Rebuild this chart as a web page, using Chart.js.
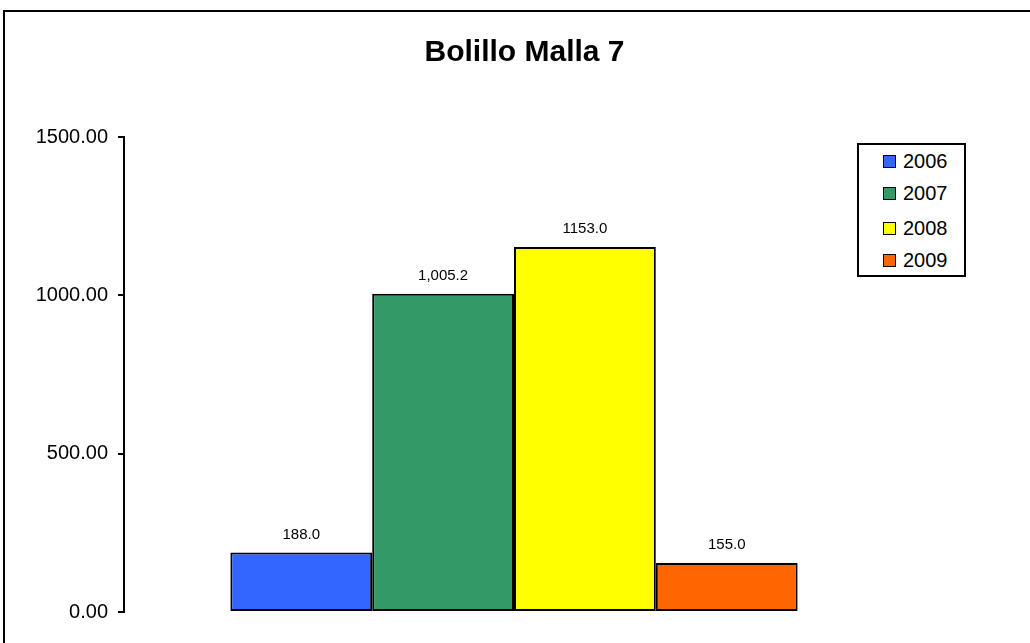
<!DOCTYPE html>
<html>
<head>
<meta charset="utf-8">
<script src="https://cdn.jsdelivr.net/npm/chart.js@4"></script>
<style>
  html, body { margin: 0; padding: 0; background: #fff; overflow: hidden; }
  #frame { position: absolute; left: 3px; top: 10px; border: 2px solid #000; width: 1039px; height: 640px; }
  #legend { position: absolute; left: 857px; top: 143px; width: 105px; height: 130px; border: 2px solid #000; background: #fff;
            font-family: Arial, "Liberation Sans", sans-serif; font-size: 20px; color: #000; }
  #legend .item { position: absolute; left: 24px; height: 24px; line-height: 24px; }
  #legend .sw { display: inline-block; width: 11px; height: 11px; border: 1.5px solid #000; margin-right: 7px; vertical-align: 0px; }
</style>
</head>
<body>
<div id="frame"><canvas id="chart" width="1039" height="640"></canvas></div>
<div id="legend"></div>
<script>
// Bolillo Malla 7
const years = ['2006', '2007', '2008', '2009'];
const values = [188.0, 1005.2, 1153.0, 155.0];
const valueLabels = ['188.0', '1,005.2', '1153.0', '155.0'];
const colors = ['#3366FF', '#339966', '#FFFF00', '#FF6600'];
const yTicks = [0, 500, 1000, 1500];

const font = 'Arial, "Liberation Sans", sans-serif';

// etiquetas de valor encima de cada barra
const valueLabelPlugin = {
    id: 'valueLabels',
    afterDatasetsDraw(chart) {
        const c = chart.ctx;
        c.save();
        c.font = '15px ' + font;
        c.fillStyle = '#000';
        c.textAlign = 'center';
        c.textBaseline = 'middle';
        chart.data.datasets.forEach((ds, i) => {
            const bar = chart.getDatasetMeta(i).data[0];
            c.fillText(valueLabels[i], bar.x, bar.y - 18);
        });
        c.restore();
    }
};

const datasets = years.map((y, i) => ({
    label: y,
    data: [values[i]],
    backgroundColor: colors[i],
    borderColor: '#000',
    borderWidth: 2,
    borderSkipped: false
}));

new Chart(document.getElementById('chart').getContext('2d'), {
    type: 'bar',
    data: { labels: [''], datasets: datasets },
    options: {
        responsive: false,
        animation: false,
        devicePixelRatio: 1,
        categoryPercentage: 4 / 5.5,
        barPercentage: 1,
        layout: { padding: { left: 0, right: 0, top: 0, bottom: 40 } },
        plugins: {
            legend: { display: false },
            tooltip: { enabled: false },
            title: {
                display: true,
                text: 'Bolillo Malla 7',
                color: '#000',
                font: { family: font, size: 30, weight: 'bold', lineHeight: 1.2 },
                padding: { top: 23, bottom: 66 }
            }
        },
        scales: {
            x: { display: false },
            y: {
                min: 0,
                max: 1500,
                afterBuildTicks: axis => { axis.ticks = yTicks.map(v => ({ value: v })); },
                afterFit: axis => { axis.width = 119; },
                border: { display: true, color: '#000', width: 2 },
                grid: { drawOnChartArea: false, drawTicks: true, tickLength: 6, color: '#000', lineWidth: 2 },
                ticks: {
                    color: '#000',
                    padding: 10,
                    font: { family: font, size: 20 },
                    callback: v => Number(v).toFixed(2)
                }
            },
            // espacio vacío a la derecha (zona de la leyenda)
            yRight: {
                position: 'right',
                display: true,
                afterFit: axis => { axis.width = 140; },
                border: { display: false },
                grid: { display: false },
                ticks: { display: false }
            }
        }
    },
    plugins: [valueLabelPlugin]
});

// leyenda
const legend = document.getElementById('legend');
const rowTops = [4, 36, 71, 103];
years.forEach((y, i) => {
    const item = document.createElement('div');
    item.className = 'item';
    item.style.top = rowTops[i] + 'px';
    item.innerHTML = '<span class="sw" style="background:' + colors[i] + '"></span>' + y;
    legend.appendChild(item);
});
</script>
</body>
</html>
